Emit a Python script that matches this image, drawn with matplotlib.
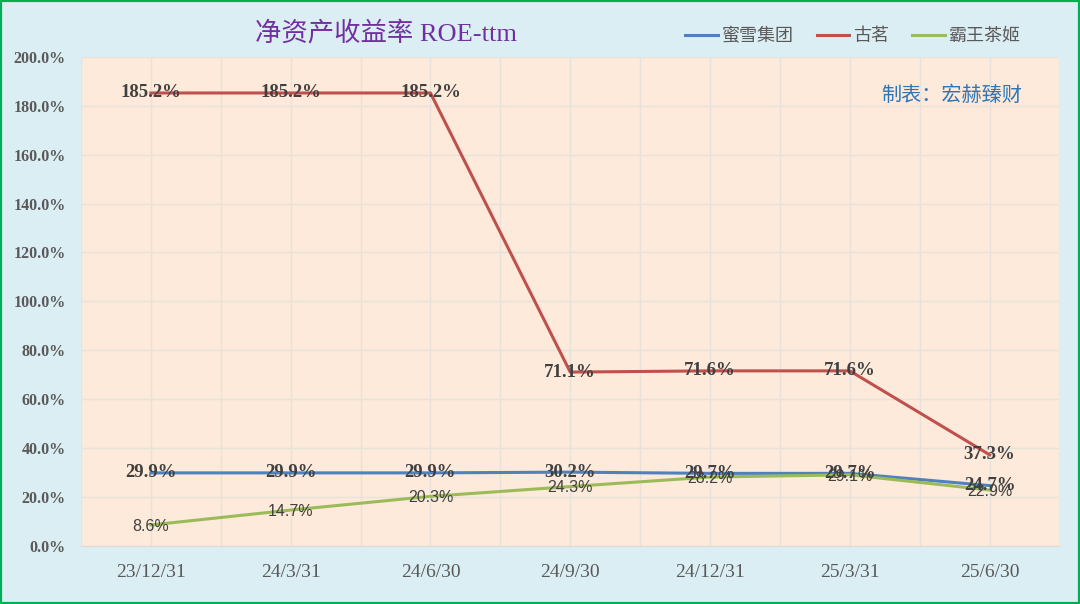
import matplotlib.pyplot as plt
from matplotlib.patches import Rectangle
from matplotlib.ticker import MultipleLocator, FuncFormatter

dates = ['23/12/31', '24/3/31', '24/6/30', '24/9/30', '24/12/31', '25/3/31', '25/6/30']
mixue = [29.9, 29.9, 29.9, 30.2, 29.7, 29.7, 24.7]
guming = [185.2, 185.2, 185.2, 71.1, 71.6, 71.6, 37.3]
chagee = [8.6, 14.7, 20.3, 24.3, 28.2, 29.1, 22.9]

serif = ['Liberation Serif', 'Noto Sans CJK SC']
plt.rcParams['font.family'] = serif

fig = plt.figure(figsize=(10.8, 6.04), dpi=100)
fig.patch.set_facecolor('#DBEEF4')
fig.patches.append(Rectangle((0, 0), 1, 1, transform=fig.transFigure, fill=False,
                             edgecolor='#00B050', linewidth=3, zorder=10))

ax = fig.add_axes([0.075, 0.096, 0.906, 0.81])
ax.set_facecolor('#FDEADA')
x = list(range(len(dates)))

ax.plot(x, guming, color='#C0504D', lw=2.2, label='古茗', zorder=3)
ax.plot(x, mixue, color='#4F81BD', lw=2.2, label='蜜雪集团', zorder=4)
ax.plot(x, chagee, color='#9BBB59', lw=2.2, label='霸王茶姬', zorder=5)

# data labels, centred on the points like the original
for xi, v in zip(x, guming):
    ax.text(xi, v, f'{v:.1f}%', ha='center', va='center', fontsize=13.5,
            fontweight='bold', color='#404040', zorder=6)
for xi, v in zip(x, mixue):
    ax.text(xi, v, f'{v:.1f}%', ha='center', va='center', fontsize=13.5,
            fontweight='bold', color='#404040', zorder=6)
for xi, v in zip(x, chagee):
    ax.text(xi, v - 0.5, f'{v:.1f}%', ha='center', va='center', fontsize=11.5,
            family=['Liberation Sans', 'DejaVu Sans'], color='#404040', zorder=6)

ax.set_xlim(-0.5, 6.5)
ax.set_ylim(0, 200)
ax.yaxis.set_major_locator(MultipleLocator(20))
ax.yaxis.set_major_formatter(FuncFormatter(lambda v, p: f'{v:.1f}%'))
ax.set_xticks(x)
ax.set_xticks([i - 0.5 for i in range(len(dates) + 1)], minor=True)
ax.set_xticklabels(dates, fontsize=14, color='#595959')
for lab in ax.get_yticklabels():
    lab.set_fontsize(11.5)
    lab.set_fontweight('bold')
    lab.set_color('#595959')
ax.tick_params(axis='both', which='both', length=0)
ax.tick_params(axis='x', pad=13)
ax.tick_params(axis='y', pad=11)
ax.grid(axis='y', color='#E8E2DC', lw=1)
ax.grid(axis='x', which='both', color='#E8E2DC', lw=1)
for s in ax.spines.values():
    s.set_visible(False)
ax.spines['bottom'].set_visible(True)
ax.spines['bottom'].set_color('#E0DAD4')

fig.text(0.357, 0.945, '净资产收益率 ROE-ttm', ha='center', va='center',
         fontsize=19, color='#7030A0')
ax.text(0.962, 0.92, '制表：宏赫臻财', transform=ax.transAxes, ha='right', va='center',
        fontsize=14.5, color='#2E75B6', family=['Noto Sans CJK SC'])

handles, labels = ax.get_legend_handles_labels()
order = [1, 0, 2]
leg = fig.legend([handles[i] for i in order], [labels[i] for i in order],
                 loc='center right', bbox_to_anchor=(0.96, 0.94), ncol=3, frameon=False,
                 handlelength=1.8, handletextpad=0.2, columnspacing=1.3,
                 prop={'family': ['Noto Sans CJK SC'], 'size': 13})
for t in leg.get_texts():
    t.set_color('#595959')

fig.savefig('out.png', dpi=100, facecolor=fig.get_facecolor())
